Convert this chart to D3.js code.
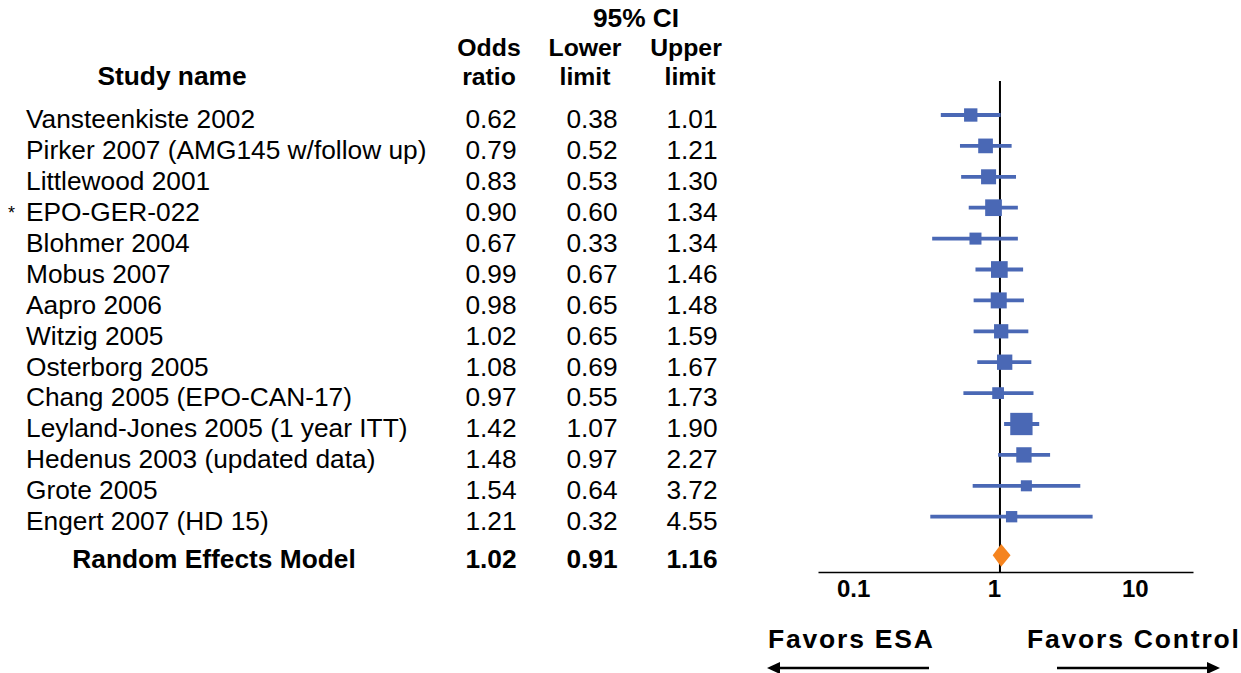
<!DOCTYPE html>
<html>
<head>
<meta charset="utf-8">
<script src="https://d3js.org/d3.v7.min.js"></script>
<style>
  html, body { margin: 0; padding: 0; background: #fff; }
  svg text { font-family: "Liberation Sans", Arial, Helvetica, sans-serif; fill: #000; }
</style>
</head>
<body>
<svg id="chart" width="1241" height="673"></svg>
<script>
// ---- data ----
const studies = [
  "Vansteenkiste 2002",
  "Pirker 2007 (AMG145 w/follow up)",
  "Littlewood 2001",
  "EPO-GER-022",
  "Blohmer 2004",
  "Mobus 2007",
  "Aapro 2006",
  "Witzig 2005",
  "Osterborg 2005",
  "Chang 2005 (EPO-CAN-17)",
  "Leyland-Jones 2005 (1 year ITT)",
  "Hedenus 2003 (updated data)",
  "Grote 2005",
  "Engert 2007 (HD 15)"
];
const markedStudies = ["EPO-GER-022"];
const oddsRatio = [0.62, 0.79, 0.83, 0.90, 0.67, 0.99, 0.98, 1.02, 1.08, 0.97, 1.42, 1.48, 1.54, 1.21];
const lowerLimit = [0.38, 0.52, 0.53, 0.60, 0.33, 0.67, 0.65, 0.65, 0.69, 0.55, 1.07, 0.97, 0.64, 0.32];
const upperLimit = [1.01, 1.21, 1.30, 1.34, 1.34, 1.46, 1.48, 1.59, 1.67, 1.73, 1.90, 2.27, 3.72, 4.55];
// relative study weights (%)
const weights = [5.7, 6.9, 7.2, 8.9, 4.6, 8.9, 8.2, 6.5, 7.5, 4.4, 15.9, 7.5, 3.9, 4.1];
const summaryLabel = "Random Effects Model";
const summary = { or: 1.02, lower: 0.91, upper: 1.16 };
const tickValues = [0.1, 1, 10];
const tickLabels = ["0.1", "1", "10"];
const leftLabel = "Favors ESA";
const rightLabel = "Favors Control";

// ---- drawing ----
const svg = d3.select("#chart");
svg.append("rect").attr("width", 1241).attr("height", 673).attr("fill", "#fff");

const x = d3.scaleLog().domain([0.051, 23.5]).range([818, 1193]);
const y = d3.scaleLinear().domain([0, studies.length - 1]).range([115, 516.7]);
const ySummary = y(14.25);
const size = d3.scaleSqrt().domain([0, 15.9]).range([0, 22.3]);
const fmt = d3.format(".2f");
const blue = "#4A68B5";
const orange = "#F5841F";

const colOR = 491, colLow = 592, colUp = 692;
const FS = 26.3;

// headers
const hdr = svg.append("g").attr("font-weight", "bold").attr("font-size", FS).attr("text-anchor", "middle");
hdr.append("text").attr("x", 636).attr("y", 27).text("95% CI");
hdr.append("text").attr("x", 172).attr("y", 85).text("Study name");
const hdr2 = svg.append("g").attr("font-weight", "bold").attr("font-size", 24.8).attr("text-anchor", "middle");
function twoLine(cx1, cx2, l1, l2) {
  hdr2.append("text").attr("x", cx1).attr("y", 56).text(l1);
  hdr2.append("text").attr("x", cx2).attr("y", 85).text(l2);
}
twoLine(489, 489, "Odds", "ratio");
twoLine(585, 585, "Lower", "limit");
twoLine(686, 690, "Upper", "limit");

// rows of text
const rows = svg.append("g").attr("font-size", FS);
studies.forEach((s, i) => {
  const by = y(i) + 13.3;
  rows.append("text").attr("x", 26).attr("y", by).text(s);
  if (markedStudies.includes(s)) {
    rows.append("text").attr("x", 8).attr("y", by - 2).attr("font-size", 18).text("*");
  }
  rows.append("text").attr("x", colOR).attr("y", by).attr("text-anchor", "middle").text(fmt(oddsRatio[i]));
  rows.append("text").attr("x", colLow).attr("y", by).attr("text-anchor", "middle").text(fmt(lowerLimit[i]));
  rows.append("text").attr("x", colUp).attr("y", by).attr("text-anchor", "middle").text(fmt(upperLimit[i]));
});
const sumG = svg.append("g").attr("font-size", FS).attr("font-weight", "bold").attr("text-anchor", "middle");
sumG.append("text").attr("x", 214).attr("y", ySummary + 12.3).text(summaryLabel);
sumG.append("text").attr("x", colOR).attr("y", ySummary + 12.3).text(fmt(summary.or));
sumG.append("text").attr("x", colLow).attr("y", ySummary + 12.3).text(fmt(summary.lower));
sumG.append("text").attr("x", colUp).attr("y", ySummary + 12.3).text(fmt(summary.upper));

// axis
const axisY = 572;
const axis = d3.axisBottom(x).tickValues(tickValues).tickSize(0).tickPadding(8)
  .tickFormat((d, i) => tickLabels[i]);
const ag = svg.append("g").attr("transform", `translate(0,${axisY})`).call(axis)
  .attr("font-size", 24).attr("font-family", '"Liberation Sans", Arial, sans-serif');
ag.select(".domain").attr("stroke", "#000").attr("stroke-width", 1.5);
ag.selectAll(".tick text")
  .attr("font-weight", "bold").attr("fill", "#000")
  .attr("dx", -6);

// reference line at 1
svg.append("line").attr("x1", x(1)).attr("x2", x(1)).attr("y1", 81).attr("y2", axisY)
  .attr("stroke", "#000").attr("stroke-width", 2);

// CI lines & squares
const marks = svg.append("g");
studies.forEach((s, i) => {
  marks.append("line")
    .attr("x1", x(lowerLimit[i])).attr("x2", x(upperLimit[i]))
    .attr("y1", y(i)).attr("y2", y(i))
    .attr("stroke", blue).attr("stroke-width", 3.8);
  const w = size(weights[i]);
  marks.append("rect")
    .attr("x", x(oddsRatio[i]) - w / 2).attr("y", y(i) - w / 2)
    .attr("width", w).attr("height", w).attr("fill", blue);
});

// summary diamond
const dh = 11.3;
svg.append("path")
  .attr("d", `M${x(summary.lower) - 1.5},${ySummary} L${x(summary.or)},${ySummary - dh} L${x(summary.upper) + 1.5},${ySummary} L${x(summary.or)},${ySummary + dh} Z`)
  .attr("fill", orange);

// favors labels & arrows
const fav = svg.append("g").attr("font-size", 26.5).attr("font-weight", "bold").attr("letter-spacing", "1.8px");
fav.append("text").attr("x", 768).attr("y", 648).text(leftLabel);
fav.append("text").attr("x", 1027).attr("y", 648).text(rightLabel);

const arrowY = 668;
function arrow(x1, x2) {
  const dir = Math.sign(x2 - x1);
  const headLen = 13, headHalf = 6;
  svg.append("line").attr("x1", x1).attr("x2", x2 - dir * headLen + dir * 1).attr("y1", arrowY).attr("y2", arrowY)
    .attr("stroke", "#000").attr("stroke-width", 2.5);
  svg.append("path")
    .attr("d", `M${x2},${arrowY} L${x2 - dir * headLen},${arrowY - headHalf} L${x2 - dir * headLen},${arrowY + headHalf} Z`)
    .attr("fill", "#000");
}
arrow(929, 767);
arrow(1057, 1220);
</script>
</body>
</html>
